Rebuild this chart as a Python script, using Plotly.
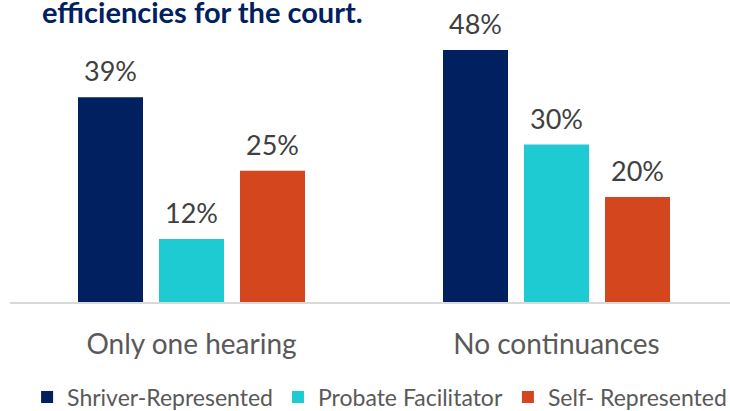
import plotly.graph_objects as go

categories = ["Only one hearing", "No continuances"]
series_names = ["Shriver-Represented", "Probate Facilitator", "Self- Represented"]
shriver = [39, 48]
facilitator = [12, 30]
self_rep = [25, 20]
values = [shriver, facilitator, self_rep]
colors = ["#002060", "#1ECBD3", "#D3461E"]
title_text = "efficiencies for the court."

bar_step = 81 / 365
bar_width = 65 / 365
offsets = [-bar_step, 0, bar_step]

fig = go.Figure()
for j, (name, vals) in enumerate(zip(series_names, values)):
    xs = [i + offsets[j] for i in range(len(categories))]
    fig.add_trace(go.Bar(
        x=xs, y=vals, width=bar_width, name=name,
        marker=dict(color=colors[j], line=dict(width=0)),
    ))
    for x, v in zip(xs, vals):
        fig.add_annotation(
            x=x, y=v, xref="x", yref="y", text=f"{v}%", showarrow=False,
            yanchor="bottom", yshift=8,
            font=dict(family="Lato", size=27, color="#404040"),
        )

# plot area spans x 10..730 px and y 0..302 px
fig.add_annotation(
    xref="paper", yref="paper", x=30 / 720, y=1, xanchor="left", yanchor="top",
    yshift=8, text=f"<b>{title_text}</b>", showarrow=False,
    font=dict(family="Lato", size=29, color="#002060"),
)

fig.update_layout(
    width=730, height=411,
    margin=dict(l=10, r=0, t=0, b=109, autoexpand=False),
    plot_bgcolor="white", paper_bgcolor="white",
    showlegend=True,
    legend=dict(
        orientation="h", xref="container", yref="container",
        x=0.52, y=1 - 397 / 411, xanchor="center", yanchor="middle",
        font=dict(family="Lato", size=23, color="#595959"),
        itemwidth=30, tracegroupgap=0,
    ),
    xaxis=dict(
        range=[-181.5 / 365, -181.5 / 365 + 720 / 365],
        tickmode="array", tickvals=list(range(len(categories))), ticktext=categories,
        showline=True, linecolor="#D9D9D9", linewidth=2,
        showgrid=False, zeroline=False, ticks="",
        ticklabelstandoff=16,
        tickfont=dict(family="Lato", size=28, color="#595959"),
    ),
    yaxis=dict(range=[0, 302 / 5.25], visible=False),
)

fig.write_html("out.html", config={"displayModeBar": False},
               post_script="document.body.style.margin='0';")
